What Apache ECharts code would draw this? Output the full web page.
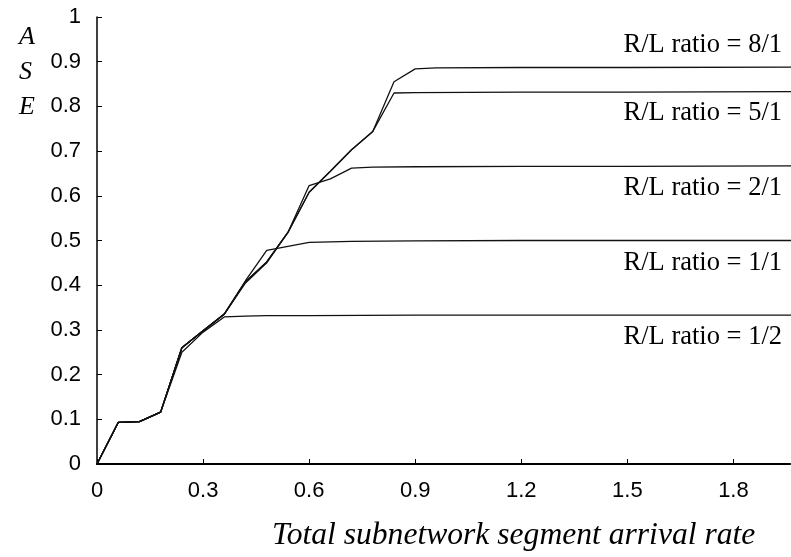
<!DOCTYPE html>
<html><head><meta charset="utf-8">
<script src="https://cdn.jsdelivr.net/npm/echarts@6/dist/echarts.min.js"></script>
<style>html,body{margin:0;padding:0;background:#fff}#c{width:791px;height:557px}</style>
</head><body><div id="c"></div>
<script>
// x values (arrival rate)
const xHalf  = [0, 0.06, 0.12, 0.18, 0.24, 0.30, 0.36, 0.42, 0.48, 0.60, 0.90, 1.20, 1.50, 2.00];
const yHalf  = [0, 0.093, 0.095, 0.116, 0.250, 0.295, 0.329, 0.331, 0.332, 0.332, 0.333, 0.333, 0.333, 0.333];
const xOne   = [0, 0.06, 0.12, 0.18, 0.24, 0.30, 0.36, 0.42, 0.48, 0.54, 0.60, 0.72, 0.90, 1.20, 1.50, 2.00];
const yOne   = [0, 0.093, 0.095, 0.116, 0.260, 0.298, 0.336, 0.410, 0.478, 0.487, 0.496, 0.498, 0.499, 0.500, 0.500, 0.500];
const xTwo   = [0, 0.06, 0.12, 0.18, 0.24, 0.30, 0.36, 0.42, 0.48, 0.54, 0.60, 0.66, 0.72, 0.78, 0.90, 1.20, 1.50, 2.00];
const yTwo   = [0, 0.093, 0.095, 0.116, 0.260, 0.298, 0.335, 0.405, 0.450, 0.518, 0.623, 0.638, 0.662, 0.664, 0.665, 0.666, 0.666, 0.667];
const xFive  = [0, 0.06, 0.12, 0.18, 0.24, 0.30, 0.36, 0.42, 0.48, 0.54, 0.60, 0.66, 0.72, 0.78, 0.84, 0.90, 1.20, 1.50, 2.00];
const yFive  = [0, 0.093, 0.095, 0.116, 0.260, 0.298, 0.335, 0.408, 0.452, 0.518, 0.608, 0.655, 0.703, 0.744, 0.830, 0.831, 0.832, 0.832, 0.833];
const xEight = [0, 0.06, 0.12, 0.18, 0.24, 0.30, 0.36, 0.42, 0.48, 0.54, 0.60, 0.66, 0.72, 0.78, 0.84, 0.90, 0.96, 1.20, 1.50, 2.00];
const yEight = [0, 0.093, 0.095, 0.116, 0.260, 0.298, 0.335, 0.408, 0.452, 0.518, 0.608, 0.655, 0.703, 0.744, 0.855, 0.884, 0.886, 0.887, 0.887, 0.888];
const seriesNames = ['R/L ratio = 1/2', 'R/L ratio = 1/1', 'R/L ratio = 2/1', 'R/L ratio = 5/1', 'R/L ratio = 8/1'];
const xTicks = ['0', '0.3', '0.6', '0.9', '1.2', '1.5', '1.8'];
const yTicks = ['0', '0.1', '0.2', '0.3', '0.4', '0.5', '0.6', '0.7', '0.8', '0.9', '1'];
const xTitle = 'Total subnetwork segment arrival rate';
const yTitle = ['A', 'S', 'E'];

const xs = [xHalf, xOne, xTwo, xFive, xEight];
const ys = [yHalf, yOne, yTwo, yFive, yEight];
const pair = (a, b) => a.map((v, i) => [v, b[i]]);

const chart = echarts.init(document.getElementById('c'), null, {renderer: 'canvas'});
const fmt = v => String(Math.round(v * 10) / 10);
const labelPos = [339, 265, 190, 115, 47];

const option = {
  animation: false,
  backgroundColor: '#fff',
  grid: {left: 97, right: 1, top: 17, bottom: 93},
  xAxis: [{
    type: 'value', min: 0, max: 1.96, interval: 0.3,
    axisLine: {show: true, onZero: false, lineStyle: {color: '#000', width: 2}},
    axisTick: {show: true, inside: true, length: 5, lineStyle: {color: '#000', width: 1}},
    axisLabel: {showMaxLabel: false, margin: 16, color: '#000', fontSize: 22, fontFamily: 'Arial',
      formatter: v => xTicks[Math.round(v / 0.3)] || fmt(v)},
    splitLine: {show: false}
  }, {
    type: 'value', position: 'top', min: 0, max: 1.96,
    axisLine: {show: true, lineStyle: {color: '#000', width: 1.5}},
    axisTick: {show: false}, axisLabel: {show: false}, splitLine: {show: false}
  }],
  yAxis: {
    type: 'value', min: 0, max: 1, interval: 0.1,
    axisLine: {show: true, onZero: false, lineStyle: {color: '#000', width: 1.5}},
    axisTick: {show: true, inside: true, length: 5, lineStyle: {color: '#000', width: 1}},
    axisLabel: {margin: 16, color: '#000', fontSize: 22, fontFamily: 'Arial',
      formatter: v => yTicks[Math.round(v * 10)]},
    splitLine: {show: false}
  },
  series: xs.map((x, i) => ({
    name: seriesNames[i], type: 'line', data: pair(x, ys[i]),
    showSymbol: false, symbol: 'none', clip: true,
    lineStyle: {color: '#111', width: 1.3}
  })),
  graphic: [
    ...seriesNames.map((n, i) => ({
      type: 'text', right: 9, top: labelPos[i] - 15,
      style: {text: n, fill: '#000', font: '26.5px "Liberation Serif", "Times New Roman", serif', textAlign: 'right'}
    })),
    {type: 'text', left: 272, top: 520,
      style: {text: xTitle, fill: '#000', font: 'italic 31.6px "Liberation Serif", "Times New Roman", serif'}},
    ...yTitle.map((t, i) => ({
      type: 'text', left: 19, top: 24 + i * 35,
      style: {text: t, fill: '#000', font: 'italic 26px "Liberation Serif", "Times New Roman", serif'}
    }))
  ]
};
chart.setOption(option);
</script></body></html>
